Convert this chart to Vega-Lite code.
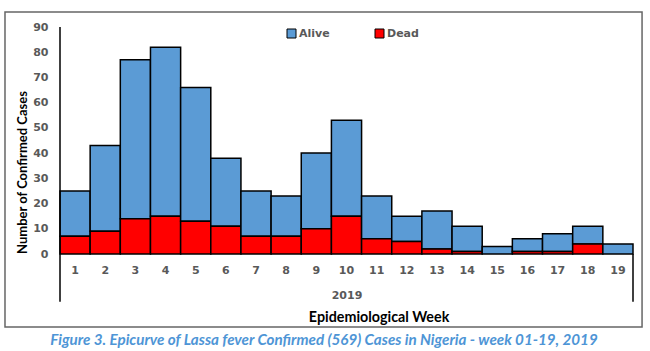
{
  "$schema": "https://vega.github.io/schema/vega-lite/v6.json",
  "width": 573,
  "height": 227,
  "autosize": {"type": "none"},
  "padding": {"left": 60, "top": 27, "right": 17, "bottom": 97},
  "background": "white",
  "config": {"view": {"stroke": null}},
  "layer": [
    {
      "data": {"values": [
        {"week": 1, "status": "Alive", "cases": 18}, {"week": 1, "status": "Dead", "cases": 7},
        {"week": 2, "status": "Alive", "cases": 34}, {"week": 2, "status": "Dead", "cases": 9},
        {"week": 3, "status": "Alive", "cases": 63}, {"week": 3, "status": "Dead", "cases": 14},
        {"week": 4, "status": "Alive", "cases": 67}, {"week": 4, "status": "Dead", "cases": 15},
        {"week": 5, "status": "Alive", "cases": 53}, {"week": 5, "status": "Dead", "cases": 13},
        {"week": 6, "status": "Alive", "cases": 27}, {"week": 6, "status": "Dead", "cases": 11},
        {"week": 7, "status": "Alive", "cases": 18}, {"week": 7, "status": "Dead", "cases": 7},
        {"week": 8, "status": "Alive", "cases": 16}, {"week": 8, "status": "Dead", "cases": 7},
        {"week": 9, "status": "Alive", "cases": 30}, {"week": 9, "status": "Dead", "cases": 10},
        {"week": 10, "status": "Alive", "cases": 38}, {"week": 10, "status": "Dead", "cases": 15},
        {"week": 11, "status": "Alive", "cases": 17}, {"week": 11, "status": "Dead", "cases": 6},
        {"week": 12, "status": "Alive", "cases": 10}, {"week": 12, "status": "Dead", "cases": 5},
        {"week": 13, "status": "Alive", "cases": 15}, {"week": 13, "status": "Dead", "cases": 2},
        {"week": 14, "status": "Alive", "cases": 10}, {"week": 14, "status": "Dead", "cases": 1},
        {"week": 15, "status": "Alive", "cases": 3},
        {"week": 16, "status": "Alive", "cases": 5}, {"week": 16, "status": "Dead", "cases": 1},
        {"week": 17, "status": "Alive", "cases": 7}, {"week": 17, "status": "Dead", "cases": 1},
        {"week": 18, "status": "Alive", "cases": 7}, {"week": 18, "status": "Dead", "cases": 4},
        {"week": 19, "status": "Alive", "cases": 4}
      ]},
      "mark": {"type": "bar", "stroke": "#000000", "strokeWidth": 1.5},
      "encoding": {
        "x": {
          "field": "week", "type": "ordinal",
          "scale": {"paddingInner": 0, "paddingOuter": 0},
          "axis": {
            "title": "2019", "labelAngle": 0, "ticks": false, "domain": false, "labelOverlap": false,
            "labelFont": "DejaVu Sans", "labelFontWeight": "bold", "labelFontSize": 11, "labelColor": "#595959",
            "labelPadding": 10,
            "titleFont": "DejaVu Sans", "titleFontWeight": "bold", "titleFontSize": 11, "titleColor": "#595959",
            "titlePadding": 14
          }
        },
        "y": {
          "field": "cases", "type": "quantitative", "aggregate": "sum", "stack": "zero",
          "scale": {"domain": [0, 90], "nice": false},
          "axis": {
            "values": [0, 10, 20, 30, 40, 50, 60, 70, 80, 90],
            "grid": false, "ticks": false, "domain": false, "labelOverlap": false,
            "labelFont": "DejaVu Sans", "labelFontWeight": "bold", "labelFontSize": 11, "labelColor": "#595959",
            "labelPadding": 12,
            "title": "Number of Confirmed Cases",
            "titleFont": "Lato", "titleFontWeight": "bold", "titleFontSize": 13, "titleColor": "#000000",
            "titleAngle": -90, "titleAlign": "center", "titleBaseline": "middle",
            "titleX": -38, "titleY": 145
          }
        },
        "color": {
          "field": "status", "type": "nominal",
          "scale": {"domain": ["Alive", "Dead"], "range": ["#5B9BD5", "#FF0000"]},
          "legend": {
            "title": null, "orient": "none", "direction": "horizontal",
            "legendX": 226, "legendY": 1,
            "symbolType": "square", "symbolSize": 81, "symbolStrokeColor": "#000000", "symbolStrokeWidth": 1,
            "labelFont": "DejaVu Sans", "labelFontWeight": "bold", "labelFontSize": 11, "labelColor": "#595959",
            "labelOffset": 2, "columnPadding": 43
          }
        },
        "order": {"field": "status", "sort": "descending"}
      }
    },
    {
      "data": {"values": [{}]},
      "layer": [
        {
          "mark": {"type": "rect", "fillOpacity": 0, "stroke": "#666666", "strokeWidth": 1.5},
          "encoding": {
            "x": {"datum": -1.324, "type": "quantitative", "scale": {"domain": [0.5, 19.5], "nice": false, "zero": false}, "axis": null},
            "x2": {"datum": 19.8},
            "y": {"datum": 95.95, "type": "quantitative", "scale": {"domain": [0, 90], "nice": false}, "axis": null},
            "y2": {"datum": -28.94}
          }
        },
        {
          "mark": {"type": "rule", "stroke": "#000000", "strokeWidth": 1.5},
          "encoding": {
            "x": {"datum": 0.5, "type": "quantitative", "scale": {"domain": [0.5, 19.5], "nice": false, "zero": false}, "axis": null},
            "y": {"datum": -18.9, "type": "quantitative", "scale": {"domain": [0, 90], "nice": false}, "axis": null},
            "y2": {"datum": 90}
          }
        },
        {
          "mark": {"type": "rule", "stroke": "#000000", "strokeWidth": 1.5},
          "encoding": {
            "x": {"datum": 19.5, "type": "quantitative", "scale": {"domain": [0.5, 19.5], "nice": false, "zero": false}, "axis": null},
            "y": {"datum": -18.9, "type": "quantitative", "scale": {"domain": [0, 90], "nice": false}, "axis": null},
            "y2": {"datum": 0}
          }
        },
        {
          "mark": {"type": "text", "text": "Epidemiological Week", "font": "Lato", "fontWeight": "bold", "fontSize": 14.3, "color": "#000000", "align": "center", "baseline": "middle"},
          "encoding": {
            "x": {"datum": 11.08, "type": "quantitative", "scale": {"domain": [0.5, 19.5], "nice": false, "zero": false}, "axis": null},
            "y": {"datum": -25.4, "type": "quantitative", "scale": {"domain": [0, 90], "nice": false}, "axis": null}
          }
        },
        {
          "mark": {"type": "text", "text": "Figure 3. Epicurve of Lassa fever Confirmed (569) Cases in Nigeria - week 01-19, 2019", "font": "Lato", "fontWeight": "bold", "fontStyle": "italic", "fontSize": 15.2, "color": "#4E95D6", "align": "center", "baseline": "middle"},
          "encoding": {
            "x": {"datum": 9.254, "type": "quantitative", "scale": {"domain": [0.5, 19.5], "nice": false, "zero": false}, "axis": null},
            "y": {"datum": -33.9, "type": "quantitative", "scale": {"domain": [0, 90], "nice": false}, "axis": null}
          }
        }
      ]
    }
  ],
  "resolve": {"scale": {"x": "independent"}, "axis": {"x": "independent", "y": "independent"}}
}
